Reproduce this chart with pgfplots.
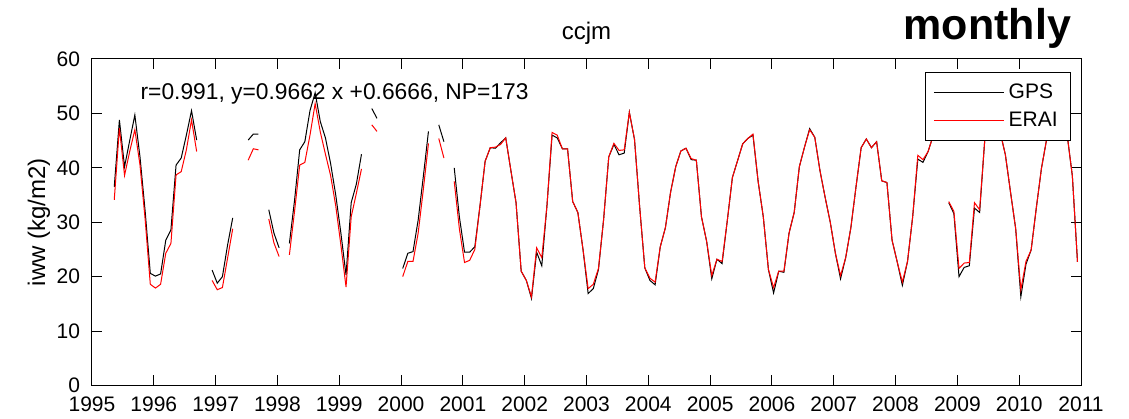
\documentclass[border=0pt]{standalone}
\usepackage{fontspec}
\setmainfont{Liberation Sans}
\usepackage{pgfplots}
\pgfplotsset{compat=1.18}
\usepackage{pgfplotstable}
\usetikzlibrary{calc}

% monthly means, nan = no data
\pgfplotstableread{
yr mo gps erai
1995 5 36.5 34.1
1995 6 48.8 47.3
1995 7 40.2 38.6
1995 8 45.0 43.0
1995 9 49.7 47.0
1995 10 42.0 40.5
1995 11 32.0 30.5
1995 12 20.6 18.6
1996 1 20.1 17.9
1996 2 20.5 18.6
1996 3 26.7 24.3
1996 4 28.6 26.1
1996 5 40.5 38.7
1996 6 41.8 39.3
1996 7 46.0 43.3
1996 8 50.5 48.8
1996 9 45.1 43.0
1996 10 nan nan
1996 12 21.2 19.3
1997 1 18.8 17.6
1997 2 20.0 18.0
1997 3 25.8 23.4
1997 4 30.8 28.8
1997 5 nan nan
1997 7 45.1 41.4
1997 8 46.2 43.5
1997 9 46.2 43.3
1997 10 nan nan
1997 11 32.3 30.6
1997 12 28.0 26.2
1998 1 25.3 23.7
1998 2 nan nan
1998 3 26.1 24.0
1998 4 34.0 32.0
1998 5 43.3 40.5
1998 6 44.8 41.0
1998 7 50.5 46.0
1998 8 53.8 51.8
1998 9 48.5 46.6
1998 10 45.5 42.5
1998 11 40.8 38.6
1998 12 35.0 33.0
1999 1 28.0 25.8
1999 2 20.3 18.1
1999 3 33.6 31.0
1999 4 37.0 35.3
1999 5 42.5 39.8
1999 6 nan nan
1999 7 50.9 47.9
1999 8 49.1 46.7
1999 9 nan nan
2000 1 21.5 20.0
2000 2 24.3 22.8
2000 3 24.6 22.8
2000 4 30.4 28.0
2000 5 38.4 36.0
2000 6 46.7 44.5
2000 7 nan nan
2000 8 47.9 45.4
2000 9 44.8 41.8
2000 10 nan nan
2000 11 40.0 37.5
2000 12 31.0 28.8
2001 1 24.5 22.6
2001 2 24.5 23.0
2001 3 25.5 25.0
2001 4 33.0 33.0
2001 5 41.2 41.2
2001 6 43.7 43.7
2001 7 43.6 43.8
2001 8 44.6 44.3
2001 9 45.5 45.5
2001 10 39.5 39.5
2001 11 33.6 33.6
2001 12 21.0 21.0
2002 1 19.3 19.3
2002 2 16.0 16.3
2002 3 24.5 25.3
2002 4 22.0 23.5
2002 5 33.0 33.0
2002 6 46.0 46.5
2002 7 45.5 46.0
2002 8 43.5 43.5
2002 9 43.5 43.5
2002 10 33.8 33.8
2002 11 31.8 31.8
2002 12 25.0 25.0
2003 1 16.9 17.8
2003 2 17.8 18.6
2003 3 21.3 21.5
2003 4 30.5 30.5
2003 5 42.0 42.0
2003 6 44.3 44.5
2003 7 42.4 43.2
2003 8 42.7 43.3
2003 9 50.2 50.2
2003 10 45.2 45.2
2003 11 32.8 32.8
2003 12 21.6 21.6
2004 1 19.3 19.7
2004 2 18.5 19.0
2004 3 25.5 25.5
2004 4 29.0 29.0
2004 5 35.5 35.5
2004 6 40.2 40.2
2004 7 43.1 43.1
2004 8 43.6 43.6
2004 9 41.5 41.7
2004 10 41.4 41.4
2004 11 31.0 31.0
2004 12 26.5 26.5
2005 1 19.6 20.2
2005 2 23.2 23.2
2005 3 22.4 22.8
2005 4 30.2 30.2
2005 5 38.2 38.2
2005 6 41.3 41.3
2005 7 44.4 44.4
2005 8 45.4 45.4
2005 9 46.0 46.2
2005 10 37.5 37.5
2005 11 31.0 31.0
2005 12 21.3 21.3
2006 1 17.0 18.0
2006 2 21.0 21.0
2006 3 20.8 21.0
2006 4 28.0 28.0
2006 5 31.8 31.8
2006 6 40.2 40.2
2006 7 43.8 43.8
2006 8 47.2 47.0
2006 9 45.6 45.6
2006 10 39.5 39.5
2006 11 34.6 34.6
2006 12 30.0 30.0
2007 1 24.3 24.3
2007 2 19.6 20.2
2007 3 23.5 23.5
2007 4 29.0 29.0
2007 5 36.5 36.5
2007 6 43.7 43.7
2007 7 45.3 45.3
2007 8 43.7 43.7
2007 9 44.8 44.8
2007 10 37.6 37.6
2007 11 37.3 37.3
2007 12 26.7 26.7
2008 1 22.7 22.7
2008 2 18.4 19.0
2008 3 22.8 22.8
2008 4 31.0 31.0
2008 5 41.6 42.3
2008 6 41.0 41.5
2008 7 43.0 43.0
2008 8 46.0 46.0
2008 9 nan nan
2008 11 33.6 33.8
2008 12 31.6 32.0
2009 1 20.0 21.5
2009 2 21.7 22.5
2009 3 22.0 22.6
2009 4 32.6 33.6
2009 5 31.8 32.3
2009 6 45.2 45.2
2009 7 48.0 48.0
2009 8 48.5 48.5
2009 9 46.5 46.5
2009 10 42.4 42.4
2009 11 35.5 35.5
2009 12 28.8 28.8
2010 1 16.3 17.6
2010 2 22.3 22.8
2010 3 24.9 24.9
2010 4 32.6 32.6
2010 5 39.9 39.9
2010 6 45.2 45.2
2010 7 48.5 48.5
2010 8 49.0 49.0
2010 9 48.0 48.0
2010 10 46.0 46.0
2010 11 38.5 38.5
2010 12 22.7 22.7
}\iwwdata

\begin{document}
\begin{tikzpicture}
\begin{axis}[
    scale only axis, width=494.5pt, height=163.25pt,
    xmin=1995, xmax=2011, ymin=0, ymax=60,
    xtick={1995,1996,...,2011}, ytick={0,10,...,60},
    tick align=inside, major tick length=5pt,
    axis line style={line width=0.5pt},
    every tick/.style={black, line width=0.5pt},
    tick label style={font=\fontsize{10.5}{12}\selectfont},
    /pgf/number format/assume math mode=true,
    xticklabel style={/pgf/number format/1000 sep={}, yshift=-2.25pt},
    yticklabel style={xshift=-2.5pt},
    unbounded coords=jump,
    legend cell align=left,
    legend image code/.code={\draw[#1, line width=0.45pt] (0pt,0pt) -- (35pt,0pt);},
    legend style={at={(0.9899,0.961)}, anchor=north east, draw=black,
        line width=0.5pt, fill=white, font=\fontsize{10.5}{12}\selectfont,
        inner xsep=4.2pt, inner ysep=3.5pt, row sep=1pt,
        nodes={inner sep=2.2pt}},
]
\addplot[black, line width=0.5pt] table[x expr=\thisrow{yr}+(\thisrow{mo}-0.68)/12, y=gps] {\iwwdata};
\addlegendentry{GPS}
\addplot[red, line width=0.5pt] table[x expr=\thisrow{yr}+(\thisrow{mo}-0.68)/12, y=erai] {\iwwdata};
\addlegendentry{ERAI}
\coordinate (sw) at (rel axis cs:0,0);
\coordinate (ne) at (rel axis cs:1,1);
\coordinate (n) at (rel axis cs:0.5,1);
\coordinate (w) at (rel axis cs:0,0.5);
\coordinate (ann) at (axis cs:1995.78,52.5);
\end{axis}
\node[anchor=base, font=\fontsize{12}{14}\selectfont] at ($(n)+(0,9.5pt)$) {ccjm};
\node[anchor=base east, font=\fontsize{21.5}{25}\selectfont\bfseries] at ($(ne)+(-1.5pt,9.5pt)$) {monthly};
\node[anchor=base west, inner sep=0pt, font=\fontsize{11.4}{13}\selectfont] at (ann) {r=0.991, y=0.9662 x +0.6666, NP=173};
\node[rotate=90, font=\fontsize{12}{14}\selectfont] at ($(w)+(-26.5pt,0)$) {iww (kg/m2)};
\pgfresetboundingbox
\path ($(sw)+(-46pt,-16.75pt)$) rectangle ($(ne)+(24pt,29.5pt)$);
\end{tikzpicture}
\end{document}
